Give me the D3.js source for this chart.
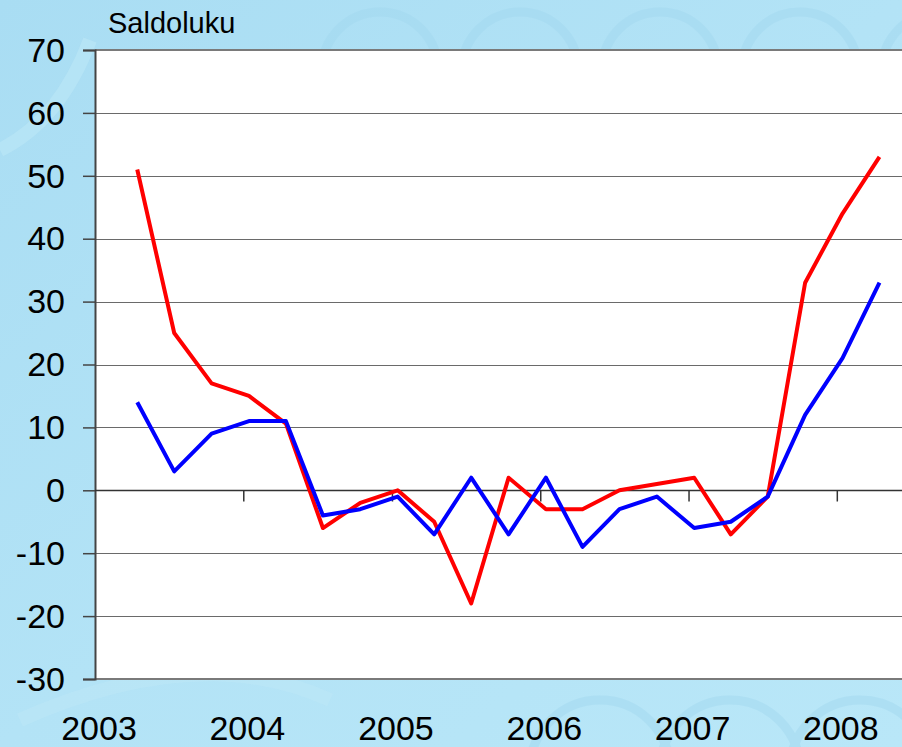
<!DOCTYPE html>
<html>
<head>
<meta charset="utf-8">
<script src="https://cdn.jsdelivr.net/npm/d3@7"></script>
<style>
  html, body { margin: 0; padding: 0; overflow: hidden; }
  svg { display: block; font-family: "Liberation Sans", Arial, sans-serif; }
</style>
</head>
<body>
<svg id="chart" width="902" height="747"></svg>
<script>
// quarterly observations (month of survey)
const quarters = ["2003-04", "2003-07", "2003-10", "2004-01", "2004-04", "2004-07", "2004-10",
  "2005-01", "2005-04", "2005-07", "2005-10", "2006-01", "2006-04", "2006-07", "2006-10",
  "2007-01", "2007-04", "2007-07", "2007-10", "2008-01", "2008-04"];
const redValues = [51, 25, 17, 15, 10.6, -6, -2, 0, -5, -18, 2, -3, -3, 0, 1, 2, -7, -1, 33, 44, 53];
const blueValues = [14, 3, 9, 11, 11, -4, -3, -1, -7, 2, -7, 2, -9, -3, -1, -6, -5, -1, 12, 21, 33];
const yTicks = [-30, -20, -10, 0, 10, 20, 30, 40, 50, 60, 70];
const yearLabels = ["2003", "2004", "2005", "2006", "2007", "2008"];
const yTitle = "Saldoluku";

const svg = d3.select("#chart");
const W = 902, H = 747;
const plotLeft = 95, plotRight = 906, plotTop = 50, plotBottom = 679;

const parseMonth = d3.utcParse("%Y-%m");
const parseYear = d3.utcParse("%Y");

// background
const defs = svg.append("defs");
const grad = defs.append("linearGradient").attr("id", "bg")
  .attr("x1", 0).attr("y1", 0).attr("x2", 1).attr("y2", 1);
grad.append("stop").attr("offset", "0%").attr("stop-color", "#a9ddf3");
grad.append("stop").attr("offset", "50%").attr("stop-color", "#b3e3f6");
grad.append("stop").attr("offset", "100%").attr("stop-color", "#b9e7f8");
svg.append("rect").attr("width", W).attr("height", H).attr("fill", "url(#bg)");

// faint euro-like arcs in the background
const arcs = svg.append("g").attr("fill", "none").attr("stroke", "#a3d9f0")
  .attr("stroke-width", 9).attr("opacity", 0.5);
[[380, 70], [520, 70], [660, 70], [800, 70], [940, 70]].forEach(c => {
  arcs.append("circle").attr("cx", c[0]).attr("cy", c[1]).attr("r", 58);
});
[[600, 770], [730, 770], [860, 770]].forEach(c => {
  arcs.append("circle").attr("cx", c[0]).attr("cy", c[1]).attr("r", 70);
});
svg.append("path").attr("d", "M0,150 Q60,120 90,40").attr("fill", "none")
  .attr("stroke", "#c0e9f8").attr("stroke-width", 14).attr("opacity", 0.5);
svg.append("path").attr("d", "M20,720 Q200,640 330,700").attr("fill", "none")
  .attr("stroke", "#c0e9f8").attr("stroke-width", 14).attr("opacity", 0.4);

const x = d3.scaleUtc()
  .domain([parseMonth("2003-01"), parseMonth("2008-06")])
  .range([plotLeft, plotLeft + 65 * 12.3625]);
const y = d3.scaleLinear().domain([-30, 70]).range([plotBottom, plotTop]);

// plot area
svg.append("rect").attr("x", plotLeft).attr("y", plotTop)
  .attr("width", plotRight - plotLeft).attr("height", plotBottom - plotTop).attr("fill", "#ffffff");

// gridlines
svg.append("g").selectAll("line").data(yTicks.filter(d => d !== -30 && d !== 70 && d !== 0)).join("line")
  .attr("x1", plotLeft).attr("x2", plotRight)
  .attr("y1", d => Math.round(y(d)) + 0.5).attr("y2", d => Math.round(y(d)) + 0.5)
  .attr("stroke", "#6a6a6a").attr("stroke-width", 1);

// top & bottom borders
svg.append("line").attr("x1", plotLeft).attr("x2", plotRight).attr("y1", plotTop).attr("y2", plotTop)
  .attr("stroke", "#7a7a7a").attr("stroke-width", 2);
svg.append("line").attr("x1", plotLeft).attr("x2", plotRight).attr("y1", plotBottom).attr("y2", plotBottom)
  .attr("stroke", "#7a7a7a").attr("stroke-width", 2);

// y axis
const yAxis = d3.axisLeft(y).tickValues(yTicks).tickSize(12).tickPadding(18)
  .tickFormat(d => String(d));
const gy = svg.append("g").attr("transform", `translate(${plotLeft},0)`).call(yAxis);
gy.select(".domain").attr("stroke", "#444").attr("stroke-width", 2);
gy.selectAll(".tick line").attr("stroke", "#444").attr("stroke-width", 1.5);
gy.selectAll(".tick text").attr("font-size", 34).attr("fill", "#000")
  .attr("font-family", "'Liberation Sans', Arial, sans-serif").attr("dy", "0.33em");

// x axis along zero line, ticks at year starts
const yearDates = yearLabels.map(parseYear);
const zeroY = Math.round(y(0)) + 0.5;
const xAxis = d3.axisBottom(x).tickValues(yearDates.slice(1)).tickSize(11).tickFormat("");
const gx = svg.append("g").attr("transform", `translate(0,${zeroY})`).call(xAxis);
gx.select(".domain").remove();
gx.selectAll(".tick line").attr("stroke", "#333").attr("stroke-width", 1.5);
svg.append("line").attr("x1", plotLeft).attr("x2", plotRight)
  .attr("y1", zeroY).attr("y2", zeroY)
  .attr("stroke", "#333").attr("stroke-width", 1.5);

// year labels
svg.append("g").selectAll("text").data(yearLabels).join("text")
  .attr("x", d => x(parseYear(d)) + 4)
  .attr("y", 740)
  .attr("text-anchor", "middle")
  .attr("font-size", 34)
  .attr("fill", "#000")
  .text(d => d);

// axis title
svg.append("text").attr("x", 108).attr("y", 33)
  .attr("font-size", 29).attr("fill", "#000").text(yTitle);

// series lines
const mid = d => d3.utcDay.offset(parseMonth(d), 14);
const line = values => d3.line()
  .x((d, i) => x(mid(quarters[i])))
  .y(d => y(d))(values);

svg.append("path").attr("d", line(redValues))
  .attr("fill", "none").attr("stroke", "#ff0000").attr("stroke-width", 4)
  .attr("stroke-linejoin", "round");
svg.append("path").attr("d", line(blueValues))
  .attr("fill", "none").attr("stroke", "#0000ff").attr("stroke-width", 4)
  .attr("stroke-linejoin", "round");
</script>
</body>
</html>
